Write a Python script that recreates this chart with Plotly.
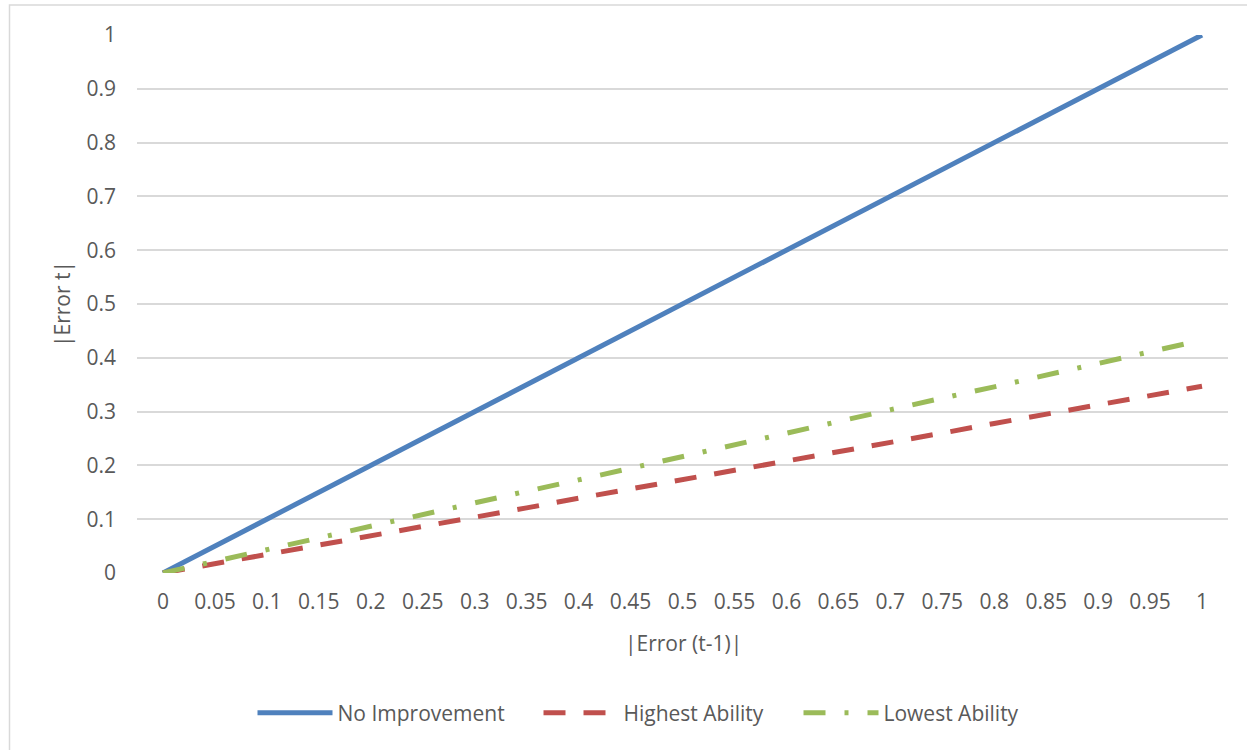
import plotly.graph_objects as go

# |Error (t-1)| categories along the x axis
categories = ["0", "0.05", "0.1", "0.15", "0.2", "0.25", "0.3", "0.35", "0.4", "0.45", "0.5",
              "0.55", "0.6", "0.65", "0.7", "0.75", "0.8", "0.85", "0.9", "0.95", "1"]

# |Error t| for each series
no_improvement = [0, 0.05, 0.1, 0.15, 0.2, 0.25, 0.3, 0.35, 0.4, 0.45, 0.5,
                  0.55, 0.6, 0.65, 0.7, 0.75, 0.8, 0.85, 0.9, 0.95, 1]
highest_ability = [0, 0.017, 0.035, 0.052, 0.069, 0.087, 0.104, 0.121, 0.139, 0.156, 0.174,
                   0.191, 0.208, 0.226, 0.243, 0.260, 0.278, 0.295, 0.312, 0.330, 0.347]
lowest_ability = [0, 0.022, 0.043, 0.065, 0.087, 0.108, 0.130, 0.152, 0.173, 0.195, 0.217,
                  0.238, 0.260, 0.281, 0.303, 0.325, 0.346, 0.368, 0.390, 0.411, 0.433]

y_ticks = [0, 0.1, 0.2, 0.3, 0.4, 0.5, 0.6, 0.7, 0.8, 0.9, 1]
y_tick_text = ["0", "0.1", "0.2", "0.3", "0.4", "0.5", "0.6", "0.7", "0.8", "0.9", "1"]

FONT = "Open Sans"
TEXT_COLOR = "#595959"
GRID = "#d9d9d9"

# plot-area geometry in pixels, used to place paper-referenced items
PLOT_L, PLOT_W = 137, 1091
PLOT_B, PLOT_H = 573, 538


def px_x(px):
    return (px - PLOT_L) / PLOT_W


def px_y(py):
    return (PLOT_B - py) / PLOT_H


fig = go.Figure()
fig.add_trace(go.Scatter(x=categories, y=no_improvement, mode="lines", name="No Improvement",
                         line=dict(color="#4f81bd", width=5), legend="legend"))
fig.add_trace(go.Scatter(x=categories, y=highest_ability, mode="lines", name="Highest Ability",
                         line=dict(color="#c0504d", width=5, dash="22px,18px"), legend="legend2"))
fig.add_trace(go.Scatter(x=categories, y=lowest_ability, mode="lines", name="Lowest Ability",
                         line=dict(color="#9bbb59", width=5, dash="22px,19px,4px,19px"), legend="legend3"))


def legend_at(px):
    return dict(orientation="h", x=px_x(px), xanchor="left", y=px_y(713), yanchor="middle",
                font=dict(family=FONT, size=21, color=TEXT_COLOR),
                itemwidth=75, bgcolor="rgba(0,0,0,0)")


fig.update_layout(
    width=1247, height=750,
    margin=dict(l=PLOT_L, r=1247 - PLOT_L - PLOT_W, t=PLOT_B - PLOT_H, b=750 - PLOT_B),
    paper_bgcolor="white", plot_bgcolor="white",
    font=dict(family=FONT, size=21, color=TEXT_COLOR),
    showlegend=True,
    legend=legend_at(252.5),
    legend2=legend_at(538.5),
    legend3=legend_at(798.5),
    xaxis=dict(type="category", categoryorder="array", categoryarray=categories,
               range=[-0.5, 20.5], showgrid=False, zeroline=False, showline=False,
               ticks="", ticklabelstandoff=14,
               tickfont=dict(family=FONT, size=21, color=TEXT_COLOR)),
    yaxis=dict(range=[0, 1], tickvals=y_ticks, ticktext=y_tick_text,
               showgrid=True, gridcolor=GRID, gridwidth=1.5, zeroline=False, showline=False,
               ticks="", ticklabelstandoff=20,
               tickfont=dict(family=FONT, size=21, color=TEXT_COLOR)),
    annotations=[
        dict(text="|Error t|", xref="paper", yref="paper", x=px_x(62), y=px_y(304),
             xanchor="center", yanchor="middle", textangle=-90, showarrow=False,
             font=dict(family=FONT, size=21, color=TEXT_COLOR)),
        dict(text="|Error (t-1)|", xref="paper", yref="paper", x=px_x(683), y=px_y(643),
             xanchor="center", yanchor="middle", showarrow=False,
             font=dict(family=FONT, size=21, color=TEXT_COLOR)),
    ],
    shapes=[
        # chart frame
        dict(type="rect", xref="paper", yref="paper",
             x0=px_x(9.5), x1=px_x(1262), y0=px_y(765), y1=px_y(5),
             line=dict(color=GRID, width=1.5), fillcolor="rgba(0,0,0,0)", layer="below"),
    ],
)

fig.write_html("out.html")
